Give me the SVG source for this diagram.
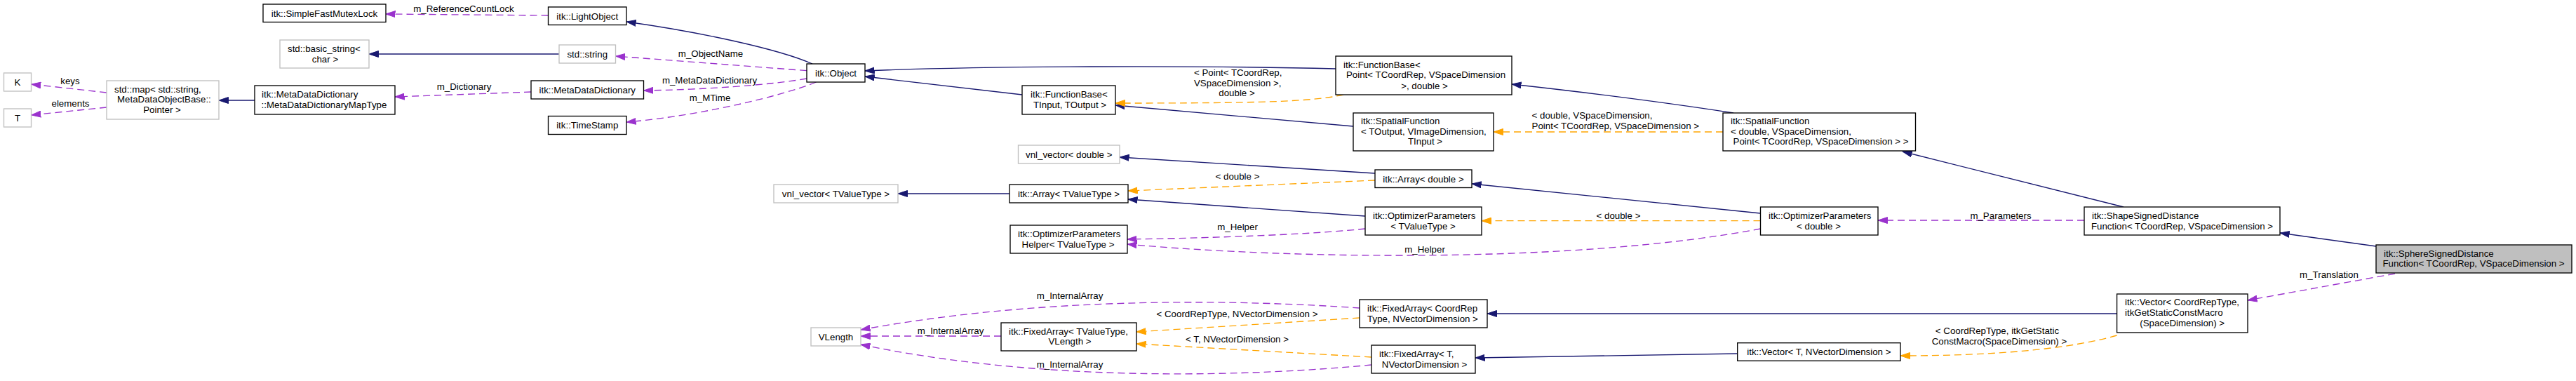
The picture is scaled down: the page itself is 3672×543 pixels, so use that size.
<svg xmlns="http://www.w3.org/2000/svg" width="3672" height="543" viewBox="0 0 3672 543">
<style>
.bg{fill:#ffffff}
.nb{fill:#ffffff;stroke:#000000;stroke-width:1.33}
.ng{fill:#ffffff;stroke:#bfbfbf;stroke-width:1.33}
.nf{fill:#bfbfbf;stroke:#000000;stroke-width:1.33}
text{font-family:"Liberation Sans",Arial,Helvetica,sans-serif;font-size:13.3px;fill:#000000}
.m{text-anchor:middle}
.s{text-anchor:start}
.e{fill:none;stroke:#191970;stroke-width:1.33;marker-end:url(#an)}
.p{fill:none;stroke:#9a32cd;stroke-width:1.33;stroke-dasharray:10,6;marker-end:url(#ap)}
.o{fill:none;stroke:#ffa500;stroke-width:1.33;stroke-dasharray:10,6;marker-end:url(#ao)}
</style>
<defs>
<marker id="an" markerUnits="userSpaceOnUse" markerWidth="14" markerHeight="10" viewBox="0 0 14 10" refX="13.5" refY="5" orient="auto"><path d="M0,0.5 L13.5,5 L0,9.5 z" fill="#191970" stroke="#191970" stroke-width="1"/></marker>
<marker id="ap" markerUnits="userSpaceOnUse" markerWidth="14" markerHeight="10" viewBox="0 0 14 10" refX="13.5" refY="5" orient="auto"><path d="M0,0.5 L13.5,5 L0,9.5 z" fill="#9a32cd" stroke="#9a32cd" stroke-width="1"/></marker>
<marker id="ao" markerUnits="userSpaceOnUse" markerWidth="14" markerHeight="10" viewBox="0 0 14 10" refX="13.5" refY="5" orient="auto"><path d="M0,0.5 L13.5,5 L0,9.5 z" fill="#ffa500" stroke="#ffa500" stroke-width="1"/></marker>
</defs>
<rect class="bg" x="0" y="0" width="3672" height="543"/>

<g id="connectors">
<path class="e" d="M1158,91 C1110,70 1000,46 893,31"/>
<path class="e" d="M797,77 L526,77"/>
<path class="e" d="M363,143 L312,143"/>
<path class="e" d="M1904,98 C1700,93 1400,94 1233,101"/>
<path class="e" d="M1457,135 L1233,109"/>
<path class="e" d="M1929,180 L1590,150"/>
<path class="e" d="M1960,247 L1596,224"/>
<path class="e" d="M1439,276 L1280,276"/>
<path class="e" d="M1946,308 L1608,284"/>
<path class="e" d="M2471,161 C2400,150 2300,136 2155,120"/>
<path class="e" d="M2509.5,304 L2098,262"/>
<path class="e" d="M3027,295 L2712,216"/>
<path class="e" d="M3387,351 L3250,332"/>
<path class="e" d="M3017.6,447 L2120,447"/>
<path class="e" d="M2476.7,504 L2103,510"/>

<path class="p" d="M781.5,22 L550,20"/>
<path class="p" d="M1150,100.7 L877.6,80"/>
<path class="p" d="M1150,112 C1100,121 1000,128 917.5,129"/>
<path class="p" d="M1163.5,117 C1120,135 1000,165 893,174"/>
<path class="p" d="M757,131 L563,138"/>
<path class="p" d="M152,132 L44.7,120"/>
<path class="p" d="M152,153 L44.7,164"/>
<path class="p" d="M1946,326 C1880,333 1750,339 1607,341"/>
<path class="p" d="M2509.5,326 C2250,375 1850,370 1607,348"/>
<path class="p" d="M2971,314 L2677,314"/>
<path class="p" d="M1938,439 C1780,428 1500,420 1227,470"/>
<path class="p" d="M1427,479 L1227,479"/>
<path class="p" d="M1955,520 C1800,535 1500,548 1227,491"/>
<path class="p" d="M3414,390 L3204,428"/>

<path class="o" d="M1915,135 C1870,145 1800,147 1590,147"/>
<path class="o" d="M2456,188 L2129,188"/>
<path class="o" d="M1960,257 L1608,272"/>
<path class="o" d="M2509.5,314.7 L2112,314.7"/>
<path class="o" d="M1938,453 L1620,473"/>
<path class="o" d="M1955,509 L1620,490"/>
<path class="o" d="M3017.6,478 C2950,497 2850,507 2709,507"/>

<text class="m" x="661" y="17.4">m_ReferenceCountLock</text>
<text class="m" x="1013" y="81.4">m_ObjectName</text>
<text class="m" x="1011.5" y="119">m_MetaDataDictionary</text>
<text class="m" x="1012" y="144">m_MTime</text>
<text class="m" x="661.5" y="128.4">m_Dictionary</text>
<text class="m" x="100" y="120.4">keys</text>
<text class="m" x="100.5" y="152">elements</text>
<text class="s" x="1702" y="108.4">&lt; Point&lt; TCoordRep,</text>
<text class="s" x="1702" y="123">VSpaceDimension &gt;,</text>
<text class="m" x="1763" y="137.4">double &gt;</text>
<text class="m" x="1764" y="256.4">&lt; double &gt;</text>
<text class="m" x="1764" y="328">m_Helper</text>
<text class="m" x="2307" y="311.7">&lt; double &gt;</text>
<text class="m" x="2031" y="359.7">m_Helper</text>
<text class="m" x="2852" y="311.7">m_Parameters</text>
<text class="s" x="2183.6" y="169.4">&lt; double, VSpaceDimension,</text>
<text class="s" x="2183.6" y="184.4">Point&lt; TCoordRep, VSpaceDimension &gt;</text>
<text class="m" x="1525" y="425.7">m_InternalArray</text>
<text class="m" x="1355" y="476.4">m_InternalArray</text>
<text class="m" x="1525" y="524.4">m_InternalArray</text>
<text class="m" x="1763.5" y="452.4">&lt; CoordRepType, NVectorDimension &gt;</text>
<text class="m" x="1763.5" y="488.4">&lt; T, NVectorDimension &gt;</text>
<text class="m" x="2847" y="476.4">&lt; CoordRepType, itkGetStatic</text>
<text class="m" x="2850" y="491.4">ConstMacro(SpaceDimension) &gt;</text>
<text class="m" x="3320" y="396.4">m_Translation</text>
</g>

<g id="n_SimpleFastMutexLock"><rect class="nb" x="375" y="6" width="175" height="25.5"/><text class="m" x="462.5" y="23.5">itk::SimpleFastMutexLock</text></g>
<g id="n_LightObject"><rect class="nb" x="781.5" y="10" width="111.5" height="25.5"/><text class="m" x="837.25" y="27.5">itk::LightObject</text></g>
<g id="n_basic_string"><rect class="ng" x="399" y="57" width="127" height="40"/><text class="s" x="410" y="74.2">std::basic_string&lt;</text><text class="m" x="463.5" y="88.7">char &gt;</text></g>
<g id="n_std_string"><rect class="ng" x="797" y="64" width="80.5" height="26"/><text class="m" x="837.25" y="81.7">std::string</text></g>
<g id="n_K"><rect class="ng" x="5.5" y="104" width="39" height="26"/><text class="m" x="25" y="121.7">K</text></g>
<g id="n_T"><rect class="ng" x="5.5" y="155" width="39" height="26"/><text class="m" x="25" y="172.7">T</text></g>
<g id="n_std_map"><rect class="ng" x="152" y="115" width="160" height="55"/><text class="s" x="163" y="131.8">std::map&lt; std::string,</text><text class="s" x="167" y="146.3">MetaDataObjectBase::</text><text class="m" x="231" y="161">Pointer &gt;</text></g>
<g id="n_MapType"><rect class="nb" x="363" y="122" width="200" height="41"/><text class="s" x="373" y="139.4">itk::MetaDataDictionary</text><text class="m" x="462" y="153.9">::MetaDataDictionaryMapType</text></g>
<g id="n_MetaDataDictionary"><rect class="nb" x="757" y="115" width="160.5" height="26"/><text class="m" x="837.25" y="132.7">itk::MetaDataDictionary</text></g>
<g id="n_TimeStamp"><rect class="nb" x="781.5" y="165.5" width="111.5" height="26"/><text class="m" x="837.25" y="183.2">itk::TimeStamp</text></g>
<g id="n_Object"><rect class="nb" x="1150" y="91" width="83" height="26"/><text class="m" x="1191.5" y="108.7">itk::Object</text></g>
<g id="n_vnl_vector_TValueType"><rect class="ng" x="1103" y="263" width="177" height="26"/><text class="m" x="1191.5" y="280.7">vnl_vector&lt; TValueType &gt;</text></g>
<g id="n_VLength"><rect class="ng" x="1156" y="467" width="71" height="26"/><text class="m" x="1191.5" y="484.7">VLength</text></g>
<g id="n_FunctionBase_TInput"><rect class="nb" x="1457" y="122" width="133" height="41"/><text class="s" x="1469" y="139.4">itk::FunctionBase&lt;</text><text class="m" x="1525" y="153.9">TInput, TOutput &gt;</text></g>
<g id="n_vnl_vector_double"><rect class="ng" x="1451.5" y="207" width="144.5" height="26"/><text class="m" x="1523.75" y="224.7">vnl_vector&lt; double &gt;</text></g>
<g id="n_Array_TValueType"><rect class="nb" x="1439" y="263" width="169" height="26"/><text class="m" x="1523.5" y="280.7">itk::Array&lt; TValueType &gt;</text></g>
<g id="n_OptimizerParametersHelper"><rect class="nb" x="1440" y="321" width="167" height="40"/><text class="s" x="1451" y="338.2">itk::OptimizerParameters</text><text class="m" x="1522.5" y="352.7">Helper&lt; TValueType &gt;</text></g>
<g id="n_FixedArray_TValueType"><rect class="nb" x="1427" y="460" width="193" height="40"/><text class="s" x="1438" y="476.9">itk::FixedArray&lt; TValueType,</text><text class="m" x="1525" y="491.4">VLength &gt;</text></g>
<g id="n_FunctionBase_Point"><rect class="nb" x="1904" y="80" width="251" height="55"/><text class="s" x="1915" y="96.8">itk::FunctionBase&lt;</text><text class="s" x="1919" y="111.3">Point&lt; TCoordRep, VSpaceDimension</text><text class="m" x="2030.5" y="126.6">&gt;, double &gt;</text></g>
<g id="n_SpatialFunction_TOutput"><rect class="nb" x="1929" y="161" width="200" height="54"/><text class="s" x="1940" y="177.4">itk::SpatialFunction</text><text class="s" x="1940" y="191.6">&lt; TOutput, VImageDimension,</text><text class="m" x="2031.5" y="206.4">TInput &gt;</text></g>
<g id="n_Array_double"><rect class="nb" x="1960" y="242" width="138" height="25.5"/><text class="m" x="2029" y="259.5">itk::Array&lt; double &gt;</text></g>
<g id="n_OptimizerParameters_TValueType"><rect class="nb" x="1946" y="295" width="166" height="40"/><text class="s" x="1957" y="312.2">itk::OptimizerParameters</text><text class="m" x="2028.5" y="326.7">&lt; TValueType &gt;</text></g>
<g id="n_FixedArray_CoordRep"><rect class="nb" x="1938" y="427" width="182" height="40"/><text class="s" x="1949" y="444.2">itk::FixedArray&lt; CoordRep</text><text class="m" x="2028" y="458.7">Type, NVectorDimension &gt;</text></g>
<g id="n_FixedArray_T"><rect class="nb" x="1955" y="492" width="148" height="40"/><text class="s" x="1966" y="509.2">itk::FixedArray&lt; T,</text><text class="m" x="2030.6" y="523.7">NVectorDimension &gt;</text></g>
<g id="n_SpatialFunction_double"><rect class="nb" x="2456" y="161" width="274.5" height="54"/><text class="s" x="2467" y="177.4">itk::SpatialFunction</text><text class="s" x="2467" y="191.6">&lt; double, VSpaceDimension,</text><text class="m" x="2595.5" y="206.4">Point&lt; TCoordRep, VSpaceDimension &gt; &gt;</text></g>
<g id="n_OptimizerParameters_double"><rect class="nb" x="2509.5" y="295" width="167.5" height="40"/><text class="s" x="2521" y="312.2">itk::OptimizerParameters</text><text class="m" x="2592.5" y="326.7">&lt; double &gt;</text></g>
<g id="n_Vector_T"><rect class="nb" x="2476.7" y="488.7" width="232.3" height="25.5"/><text class="m" x="2592.85" y="506.2">itk::Vector&lt; T, NVectorDimension &gt;</text></g>
<g id="n_ShapeSignedDistanceFunction"><rect class="nb" x="2971" y="295" width="279" height="40"/><text class="s" x="2982" y="312.2">itk::ShapeSignedDistance</text><text class="m" x="3110.5" y="326.7">Function&lt; TCoordRep, VSpaceDimension &gt;</text></g>
<g id="n_Vector_CoordRep"><rect class="nb" x="3017.6" y="419" width="186.4" height="55"/><text class="s" x="3029" y="435.4">itk::Vector&lt; CoordRepType,</text><text class="s" x="3029" y="450.4">itkGetStaticConstMacro</text><text class="m" x="3110.7" y="465.4">(SpaceDimension) &gt;</text></g>
<g id="n_SphereSignedDistanceFunction"><rect class="nf" x="3387" y="349" width="279" height="40"/><text class="s" x="3398" y="365.6">itk::SphereSignedDistance</text><text class="m" x="3526" y="380.4">Function&lt; TCoordRep, VSpaceDimension &gt;</text></g>
</svg>
